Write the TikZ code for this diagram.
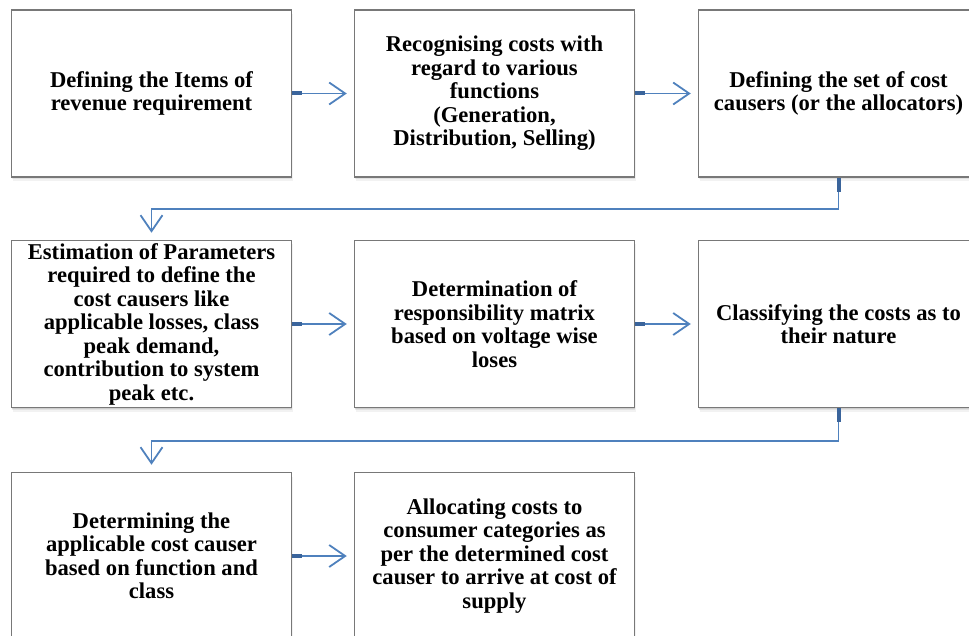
\documentclass[tikz,border=0pt]{standalone}
\usepackage{fontspec}
\setmainfont{Liberation Serif}
\usetikzlibrary{arrows.meta,calc}
\definecolor{flowblue}{RGB}{79,129,189}
\definecolor{stubblue}{RGB}{58,100,155}
\definecolor{edgegray}{RGB}{120,120,120}
\begin{document}
\begin{tikzpicture}[x=1pt,y=-1pt,
  stage/.style={draw=edgegray, fill=white, line width=1.5pt,
    minimum width=280pt, minimum height=167pt, inner sep=0pt,
    align=center, font=\bfseries\fontsize{22.6}{23.5}\selectfont,
    preaction={fill=black, opacity=0.05, transform canvas={xshift=1pt,yshift=-4pt}},
    preaction={fill=black, opacity=0.07, transform canvas={xshift=0.5pt,yshift=-2.5pt}},
    preaction={fill=black, opacity=0.09, transform canvas={xshift=0pt,yshift=-1.2pt}}},
  flow/.style={draw=flowblue, line width=1.9pt, shorten >=7pt,
    -{Straight Barb[length=16pt,width=22pt,line width=1.8pt]}},
  stub/.style={draw=stubblue, line width=4pt}]
\useasboundingbox (0,0) rectangle (969,636);
\clip (0,0) rectangle (969,636);

% first row
\node[stage] (b1) at (151.5,93.5) {Defining the Items of\\revenue requirement};
\node[stage] (b2) at (494.5,93.5) {Recognising costs with\\regard to various\\functions\\(Generation,\\Distribution, Selling)};
\node[stage] (b3) at (838.5,93.5) {Defining the set of cost\\causers (or the allocators)};

% second row
\node[stage] (b4) at (151.5,324) {Estimation of Parameters\\required to define the\\cost causers like\\applicable losses, class\\peak demand,\\contribution to system\\peak etc.};
\node[stage] (b5) at (494.5,324) {Determination of\\responsibility matrix\\based on voltage wise\\loses};
\node[stage] (b6) at (838.5,324) {Classifying the costs as to\\their nature};

% third row
\node[stage] (b7) at (151.5,556) {Determining the\\applicable cost causer\\based on function and\\class};
\node[stage] (b8) at (494.5,556) {Allocating costs to\\consumer categories as\\per the determined cost\\causer to arrive at cost of\\supply};

% levels of the return lines between rows
\coordinate (r1) at (0,209);
\coordinate (r2) at (0,441);

% straight connectors
\foreach \a/\b in {b1/b2,b2/b3,b4/b5,b5/b6,b7/b8}{
  \draw[flow] (\a.east) -- (\b.west);
  \draw[stub] (\a.east) -- ++(10,0);
}

% return connectors
\draw[flow] (b3.south) -- (b3.south |- r1) -| (b4.north);
\draw[stub] (b3.south) -- ++(0,14);
\draw[flow] (b6.south) -- (b6.south |- r2) -| (b7.north);
\draw[stub] (b6.south) -- ++(0,14);
\end{tikzpicture}
\end{document}
